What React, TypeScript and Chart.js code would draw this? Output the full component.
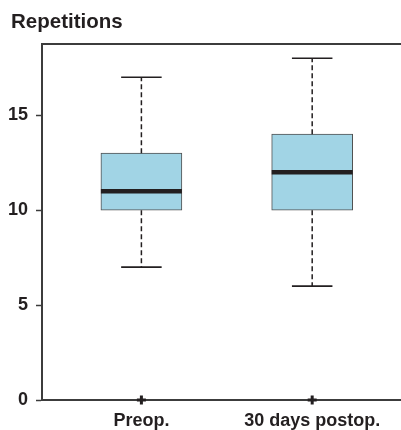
import React, { useEffect, useRef } from "react";
import { Chart, registerables } from "chart.js";

Chart.register(...registerables);

// ---- data ----
const categories = ["Preop.", "30 days postop."];
const positions = [1, 2];
const whiskerLow = [7, 6];
const q1 = [10, 10];
const median = [11, 12];
const q3 = [13, 14];
const whiskerHigh = [17, 18];
const outlierValues = [0, 0];
const yTicks = [0, 5, 10, 15];
const yTitle = "Repetitions";

const TEXT = "#231f20";
const AXIS = "#3c3c3c";
const FONT = "'Liberation Sans', Arial, Helvetica, sans-serif";

const boxPlugin = {
  id: "boxWhiskers",
  afterDatasetsDraw(chart: any) {
    const ctx = chart.ctx;
    const xs = chart.scales.x;
    const ys = chart.scales.y;
    const barMeta = chart.getDatasetMeta(0);
    ctx.save();
    positions.forEach((p, i) => {
      const x = xs.getPixelForValue(p);
      const bar = barMeta.data[i];
      const half = bar ? bar.width / 2 : 40;
      const capHalf = half / 2;
      // whiskers (dashed)
      ctx.strokeStyle = TEXT;
      ctx.lineWidth = 1.5;
      ctx.setLineDash([5, 3]);
      ctx.beginPath();
      ctx.moveTo(x, ys.getPixelForValue(q3[i]));
      ctx.lineTo(x, ys.getPixelForValue(whiskerHigh[i]));
      ctx.moveTo(x, ys.getPixelForValue(q1[i]));
      ctx.lineTo(x, ys.getPixelForValue(whiskerLow[i]));
      ctx.stroke();
      // caps
      ctx.setLineDash([]);
      ctx.lineWidth = 1.6;
      ctx.beginPath();
      const yh = ys.getPixelForValue(whiskerHigh[i]);
      const yl = ys.getPixelForValue(whiskerLow[i]);
      ctx.moveTo(x - capHalf, yh);
      ctx.lineTo(x + capHalf, yh);
      ctx.moveTo(x - capHalf, yl);
      ctx.lineTo(x + capHalf, yl);
      ctx.stroke();
      // median
      ctx.lineWidth = 4.5;
      ctx.beginPath();
      const ym = ys.getPixelForValue(median[i]);
      ctx.moveTo(x - half, ym);
      ctx.lineTo(x + half, ym);
      ctx.stroke();
    });
    // top frame line
    const a = chart.chartArea;
    ctx.strokeStyle = AXIS;
    ctx.lineWidth = 2;
    ctx.beginPath();
    ctx.moveTo(a.left - 1, a.top);
    ctx.lineTo(a.right, a.top);
    ctx.stroke();
    // axis title (horizontal, above the y axis)
    ctx.fillStyle = TEXT;
    ctx.font = `bold 20.5px ${FONT}`;
    ctx.textAlign = "left";
    ctx.textBaseline = "alphabetic";
    ctx.fillText(yTitle, 11, 28);
    ctx.restore();
  },
};

export default function App() {
  const ref = useRef<HTMLCanvasElement | null>(null);
  useEffect(() => {
    if (!ref.current) return;
    const chart = new Chart(ref.current, {
      type: "bar",
      data: {
        datasets: [
          {
            type: "bar",
            data: positions.map((p, i) => ({ x: p, y: [q1[i], q3[i]] })) as any,
            backgroundColor: "#a1d4e5",
            borderColor: "#505050",
            borderWidth: 1,
            borderSkipped: false,
            barThickness: 81,
          } as any,
          {
            type: "scatter",
            data: positions.map((p, i) => ({ x: p, y: outlierValues[i] })),
            pointStyle: "cross",
            pointRadius: 4.5,
            pointBorderWidth: 3,
            borderColor: TEXT,
            backgroundColor: TEXT,
            clip: false,
          } as any,
        ],
      },
      options: {
        responsive: false,
        animation: false,
        layout: { autoPadding: false, padding: { left: 0, right: 0, top: 44, bottom: 0 } },
        plugins: {
          legend: { display: false },
          tooltip: { enabled: false },
          title: { display: false },
        },
        scales: {
          x: {
            type: "linear",
            offset: false,
            min: 0.418,
            max: 2.52,
            afterBuildTicks: (s: any) => {
              s.ticks = positions.map((v) => ({ value: v }));
            },
            afterFit: (s: any) => {
              s.height = 30;
              s.paddingLeft = 0;
              s.paddingRight = 0;
            },
            ticks: {
              autoSkip: false,
              maxRotation: 0,
              padding: 10,
              color: TEXT,
              font: { family: FONT, size: 18, weight: "bold" },
              callback: (v: any) => categories[positions.indexOf(Number(v))] ?? "",
            },
            grid: { drawOnChartArea: false, drawTicks: false },
            border: { display: true, color: AXIS, width: 2 },
          },
          y: {
            type: "linear",
            min: 0,
            max: 18.75,
            afterBuildTicks: (s: any) => {
              s.ticks = yTicks.map((v) => ({ value: v }));
            },
            afterFit: (s: any) => {
              s.width = 42;
              s.paddingTop = 0;
            },
            ticks: {
              padding: 8,
              color: TEXT,
              font: { family: FONT, size: 18, weight: "bold" },
            },
            grid: {
              drawOnChartArea: false,
              drawTicks: true,
              tickLength: 6,
              tickWidth: 1.5,
              tickColor: AXIS,
            },
            border: { display: true, color: AXIS, width: 2 },
          },
        },
      } as any,
      plugins: [boxPlugin],
    });
    return () => chart.destroy();
  }, []);
  return (
    <div style={{ position: "absolute", left: 0, top: 0, width: 401, height: 430, background: "#fff" }}>
      <canvas ref={ref} width={401} height={430} style={{ display: "block" }} />
    </div>
  );
}
